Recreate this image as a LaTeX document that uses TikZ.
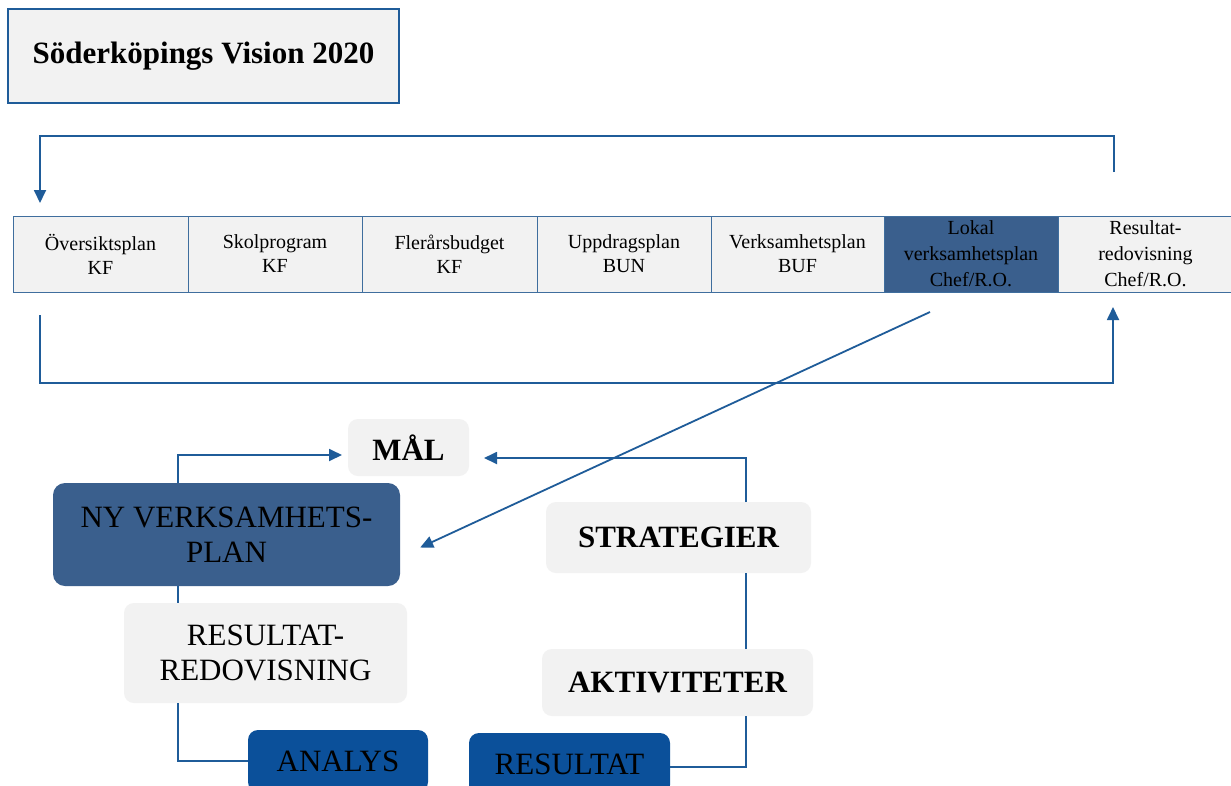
\documentclass[tikz,border=0pt]{standalone}
\usepackage{fontspec}
\setmainfont{Liberation Serif}
\usetikzlibrary{arrows.meta,calc}
\definecolor{lightbg}{HTML}{F2F2F2}
\definecolor{darkbox}{HTML}{3A5F8D}
\definecolor{vividbox}{HTML}{0B509A}
\definecolor{linecol}{HTML}{1F5C99}
\definecolor{cellline}{HTML}{3F6E9E}
\begin{document}
\begin{tikzpicture}[x=1pt,y=-1pt,
  titlebox/.style={draw=linecol,line width=1.6pt,fill=lightbg,inner sep=0pt,font=\fontsize{31}{36}\selectfont\bfseries},
  cell/.style={draw=cellline,line width=0.8pt,fill=lightbg,inner sep=0pt,minimum height=76pt,align=center,font=\fontsize{20}{24}\selectfont},
  darkcell/.style={cell,fill=darkbox},
  roundlight/.style={fill=lightbg,rounded corners=10pt,inner sep=0pt,align=center,font=\fontsize{31}{35}\selectfont},
  rounddark/.style={fill=darkbox,rounded corners=12pt,inner sep=0pt,align=center,font=\fontsize{31}{35}\selectfont},
  roundvivid/.style={fill=vividbox,rounded corners=10pt,inner sep=0pt,align=center,font=\fontsize{31}{35}\selectfont},
  boldlabel/.style={font=\fontsize{31}{35}\selectfont\bfseries},
  conn/.style={draw=linecol,line width=1.8pt},
  arr/.style={conn,-{Triangle[length=13pt,width=12pt]}},
]
\useasboundingbox (0,0) rectangle (1231,785);
\fill[white] (0,0) rectangle (1231,785);

% title
\node[titlebox,minimum width=391pt,minimum height=94pt] (title) at (203.5,56) {Söderköpings Vision 2020};

% table
\node[cell,minimum width=175pt] (c1) at (100.5,254) {Översiktsplan\\KF};
\node[cell,minimum width=174pt] (c2) at (275,254) {Skolprogram\\KF};
\node[cell,minimum width=175pt] (c3) at (449.5,254) {Flerårsbudget\\KF};
\node[cell,minimum width=174pt] (c4) at (624,254) {Uppdragsplan\\BUN};
\node[cell,minimum width=173pt] (c5) at (797.5,254) {Verksamhetsplan\\BUF};
\node[darkcell,minimum width=174pt,font=\fontsize{20}{26}\selectfont] (c6) at (971,254) {Lokal\\verksamhetsplan\\Chef/R.O.};
\node[cell,minimum width=175pt,font=\fontsize{20}{26}\selectfont] (c7) at (1145.5,254) {Resultat-\\redovisning\\Chef/R.O.};

% loop connectors around table
\coordinate (ta) at (1114,172);
\coordinate (tb) at (40,136);
\coordinate (tc) at (40,203);
\draw[arr] (ta) |- (tb) -- (tc);
\coordinate (ba) at (40,315);
\coordinate (bb) at (1113,383);
\coordinate (bc) at (1113,307);
\draw[arr] (ba) |- (bb) -- (bc);

% lower cycle
\node[roundlight,boldlabel,minimum width=121pt,minimum height=57pt] (mal) at (408.5,447.5) {MÅL};
\node[rounddark,minimum width=347pt,minimum height=103pt] (ny) at (226.5,534.5) {NY VERKSAMHETS-\\PLAN};
\node[roundlight,minimum width=283pt,minimum height=100pt] (rr) at (265.5,653) {RESULTAT-\\REDOVISNING};
\node[roundvivid,minimum width=180pt,minimum height=62pt] (an) at (338,761) {ANALYS};
\node[roundvivid,minimum width=201pt,minimum height=62pt] (re) at (569.5,764) {RESULTAT};
\node[roundlight,boldlabel,minimum width=271pt,minimum height=67pt] (akt) at (677.5,682.5) {AKTIVITETER};
\node[roundlight,boldlabel,minimum width=265pt,minimum height=71pt] (str) at (678.5,537.5) {STRATEGIER};

% diagonal arrow from table to NY
\coordinate (da) at (930,312);
\draw[arr] (da) -- ($(ny.east)+(20,13)$);

% NY -> MAL
\coordinate (n1) at (178,483);
\coordinate (n2) at (342,455);
\draw[arr] (n1) |- (n2);
% NY - RR
\draw[conn] (178,586) -- (178,603);
% RR - ANALYS
\draw[conn] (178,703) |- (an.west);
% RESULTAT - AKTIVITETER
\draw[conn] (re.east |- 0,767) -| (746,716);
% AKT - STR
\draw[conn] (746,649) -- (746,573);
% STR -> MAL
\coordinate (s1) at (746,502);
\coordinate (s2) at (484,458);
\draw[arr] (s1) |- (s2);
\end{tikzpicture}
\end{document}
